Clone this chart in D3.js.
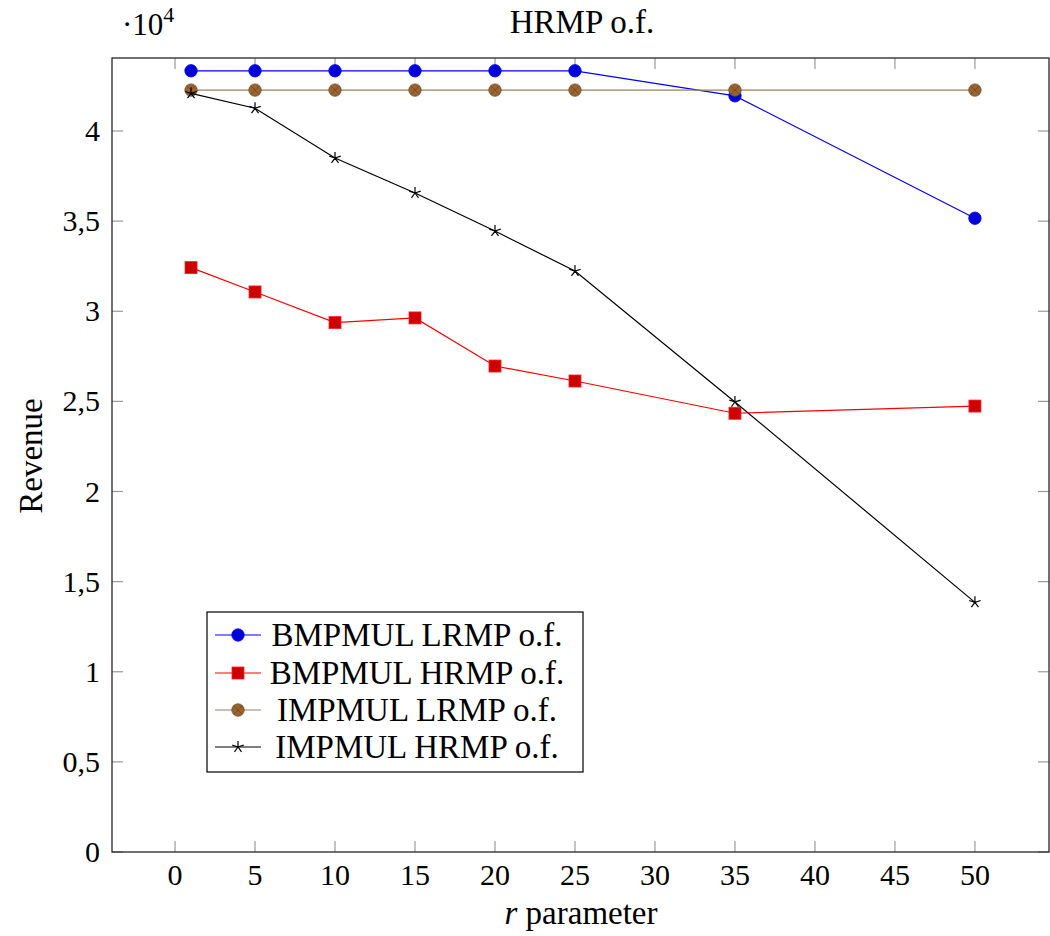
<!DOCTYPE html>
<html><head><meta charset="utf-8">
<script src="https://cdn.jsdelivr.net/npm/d3@7"></script>
<style>body{margin:0;background:#fff}text{font-family:"Liberation Serif","Times New Roman",serif;fill:#000}</style>
</head><body><svg id="c" width="1050" height="936"></svg>
<script>
const rValues = [1, 5, 10, 15, 20, 25, 35, 50];
const bmpmulLRMP = [43340, 43340, 43340, 43340, 43340, 43340, 41950, 35160];
const bmpmulHRMP = [32420, 31070, 29370, 29630, 26960, 26130, 24340, 24740];
const impmulLRMP = [42270, 42270, 42270, 42270, 42270, 42270, 42270, 42270];
const impmulHRMP = [42090, 41260, 38500, 36560, 34450, 32230, 24970, 13850];
const seriesNames = ["BMPMUL LRMP o.f.", "BMPMUL HRMP o.f.", "IMPMUL LRMP o.f.", "IMPMUL HRMP o.f."];
const xTicks = [0, 5, 10, 15, 20, 25, 30, 35, 40, 45, 50];
const yTicks = [0, 5000, 10000, 15000, 20000, 25000, 30000, 35000, 40000];

const svg = d3.select("#c");
const L = 112, R = 1049, T = 58, B = 852;
const x = d3.scaleLinear().domain([-3.94, 54.63]).range([L, R]);
const y = d3.scaleLinear().domain([0, 44050]).range([B, T]);
const fmtY = v => String(v / 1e4).replace(".", ",");

const series = [
  {name: seriesNames[0], vals: bmpmulLRMP, line: "#0000ff", fill: "#0000d9", stroke: "#0000ff", mark: "circle"},
  {name: seriesNames[1], vals: bmpmulHRMP, line: "#ff0000", fill: "#cc0000", stroke: "#ff2020", mark: "square"},
  {name: seriesNames[2], vals: impmulLRMP, line: "#9c8066", fill: "#9a6430", stroke: "#6e4a26", mark: "otimes"},
  {name: seriesNames[3], vals: impmulHRMP, line: "#000000", fill: "none", stroke: "#000", mark: "star"}
];

// ticks (inside, on all four sides)
const tg = svg.append("g").attr("stroke", "#9a9a9a").attr("stroke-width", 1.2);
xTicks.forEach(t => {
  const px = x(t);
  tg.append("line").attr("x1", px).attr("x2", px).attr("y1", B).attr("y2", B - 11);
  tg.append("line").attr("x1", px).attr("x2", px).attr("y1", T).attr("y2", T + 11);
});
yTicks.forEach(t => {
  const py = y(t);
  tg.append("line").attr("x1", L).attr("x2", L + 11).attr("y1", py).attr("y2", py);
  tg.append("line").attr("x1", R).attr("x2", R - 11).attr("y1", py).attr("y2", py);
});

// tick labels
xTicks.forEach(t => {
  svg.append("text").attr("x", x(t)).attr("y", 885).attr("text-anchor", "middle")
    .attr("font-size", 30).text(t);
});
yTicks.forEach(t => {
  svg.append("text").attr("x", 100).attr("y", y(t) + 10).attr("text-anchor", "end")
    .attr("font-size", 30).text(fmtY(t));
});

// frame
svg.append("rect").attr("x", L).attr("y", T).attr("width", R - L).attr("height", B - T)
  .attr("fill", "none").attr("stroke", "#262626").attr("stroke-width", 1.3);

function drawMarker(g, m, px, py) {
  if (m.mark === "circle") {
    g.append("circle").attr("cx", px).attr("cy", py).attr("r", 6.2).attr("fill", m.fill).attr("stroke", m.stroke).attr("stroke-width", 0.8);
  } else if (m.mark === "square") {
    g.append("rect").attr("x", px - 6).attr("y", py - 6).attr("width", 12).attr("height", 12).attr("fill", m.fill).attr("stroke", m.stroke).attr("stroke-width", 0.8);
  } else if (m.mark === "otimes") {
    g.append("circle").attr("cx", px).attr("cy", py).attr("r", 6.2).attr("fill", m.fill).attr("stroke", m.stroke).attr("stroke-width", 0.8);
    const d = 4.3;
    g.append("path").attr("d", `M${px-d},${py-d}L${px+d},${py+d}M${px-d},${py+d}L${px+d},${py-d}`).attr("stroke", m.stroke).attr("stroke-width", 0.8);
  } else {
    let p = "";
    for (let k = 0; k < 5; k++) {
      const a = -Math.PI / 2 + k * 2 * Math.PI / 5;
      p += `M${px},${py}L${px + 6 * Math.cos(a)},${py + 6 * Math.sin(a)}`;
    }
    g.append("path").attr("d", p).attr("stroke", "#000").attr("stroke-width", 1.2).attr("fill", "none");
  }
}

const line = d3.line().x(d => x(d[0])).y(d => y(d[1]));
series.forEach(s => {
  const g = svg.append("g");
  const pts = rValues.map((r, i) => [r, s.vals[i]]);
  g.append("path").attr("d", line(pts)).attr("fill", "none").attr("stroke", s.line).attr("stroke-width", 1.2);
  pts.forEach(p => drawMarker(g, s, x(p[0]), y(p[1])));
});

// legend
const lg = svg.append("g");
lg.append("rect").attr("x", 207).attr("y", 612).attr("width", 376).attr("height", 160)
  .attr("fill", "#fff").attr("stroke", "#000").attr("stroke-width", 1.2);
const rowY = [635, 673, 710, 747];
series.forEach((s, i) => {
  const cy = rowY[i];
  lg.append("line").attr("x1", 215).attr("x2", 261).attr("y1", cy).attr("y2", cy).attr("stroke", s.line).attr("stroke-width", 1.2);
  drawMarker(lg, s, 238, cy);
  lg.append("text").attr("x", 417).attr("y", cy + 11).attr("text-anchor", "middle").attr("font-size", 33).text(s.name);
});

// titles
svg.append("text").attr("x", 582).attr("y", 33).attr("text-anchor", "middle").attr("font-size", 33).text("HRMP o.f.");
const xl = svg.append("text").attr("x", 581).attr("y", 924).attr("text-anchor", "middle").attr("font-size", 33);
xl.append("tspan").attr("font-style", "italic").text("r");
xl.append("tspan").text(" parameter");
svg.append("text").attr("transform", "translate(42,456) rotate(-90)").attr("text-anchor", "middle").attr("font-size", 33).text("Revenue");
const sc = svg.append("text").attr("x", 122).attr("y", 35).attr("font-size", 31);
sc.append("tspan").text("·10");
sc.append("tspan").attr("font-size", 22).attr("dy", -13).text("4");
</script></body></html>
